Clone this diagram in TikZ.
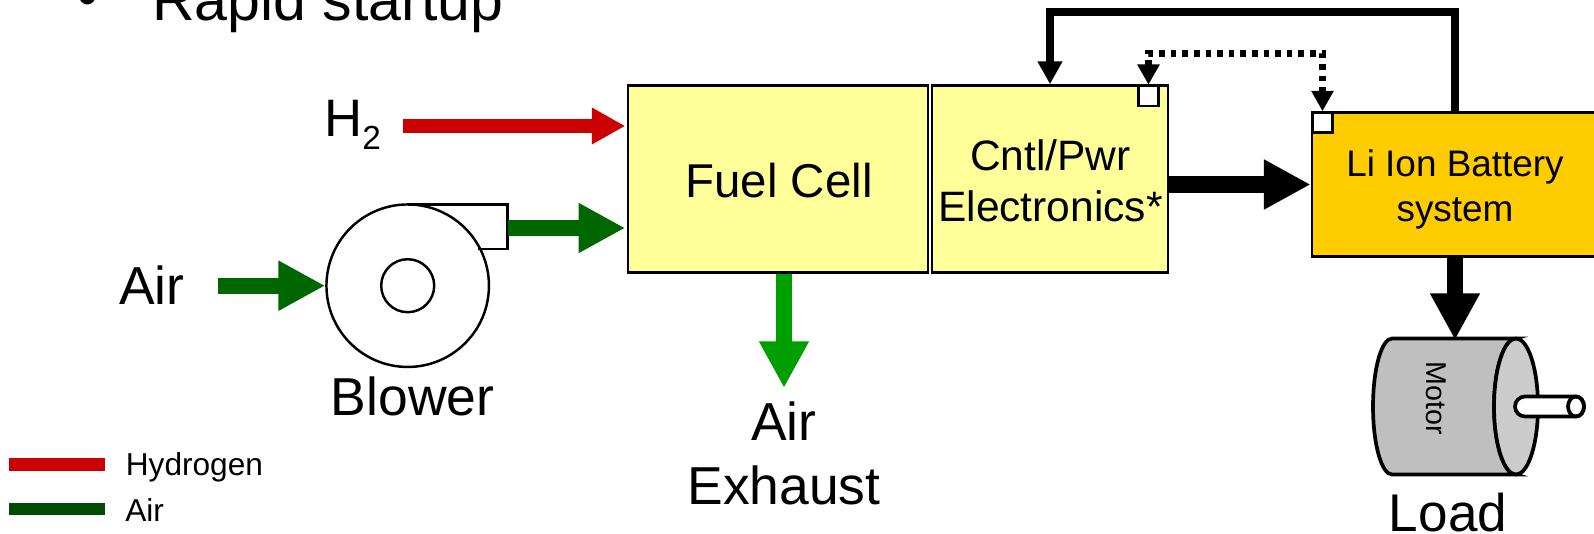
\documentclass[tikz,border=0pt]{standalone}
\usepackage{fontspec}
\setmainfont{Liberation Sans}
\usetikzlibrary{arrows.meta}
\definecolor{cellyellow}{HTML}{FFFF99}
\definecolor{batteryorange}{HTML}{FFCC00}
\definecolor{hydrogenred}{HTML}{CC0000}
\definecolor{airgreen}{HTML}{006600}
\definecolor{legendgreen}{HTML}{004D00}
\definecolor{exhaustgreen}{HTML}{009F00}
\definecolor{motorgrey}{HTML}{BFBFBF}
\definecolor{motorface}{HTML}{CCCCCC}
\begin{document}
\begin{tikzpicture}[scale=0.2]
	\tikzstyle{every node}+=[inner sep=0pt]
	\tikzstyle{box}=[draw=black,line width=1.5pt]
	\tikzstyle{port}=[draw=black,fill=white,line width=1.5pt,minimum size=0.4cm]
	\tikzstyle{bigtext}=[font=\fontsize{30.4}{36.4}\selectfont]
	\tikzstyle{flow}=[line width=9.2pt,-{Triangle[length=26.6pt,width=26.6pt]}]
	\tikzstyle{signal}=[line width=4.3pt,-{Triangle[length=13pt,width=13.4pt]}]
	\tikzstyle{sense}=[line width=3.8pt,dash pattern=on 3.2pt off 3.4pt,{Triangle[length=11.5pt,width=12pt]}-{Triangle[length=11.5pt,width=12pt]}]
	\useasboundingbox (0,0) rectangle (159.4,-53.3);

	\node [anchor=base west,font=\fontsize{33.6}{40}\selectfont] (startup) at (15.2,-2) {Rapid startup};
	\node [anchor=base,font=\fontsize{33.6}{40}\selectfont] (bullet) at (8.8,-1.6) {•};

	\node [box,fill=cellyellow,minimum width=6cm,minimum height=3.74cm] (fuel) at (77.8,-17.9) {};
	\node [box,fill=cellyellow,minimum width=4.72cm,minimum height=3.74cm] (cntl) at (105,-17.9) {};
	\node [box,fill=batteryorange,minimum width=5.72cm,minimum height=2.87cm] (battery) at (145.5,-18.45) {};
	\node [port] (cntlport) at (114.85,-9.6) {};
	\node [port] (batport) at (132.25,-12.25) {};
	\node [font=\fontsize{27}{32}\selectfont] (fuellabel) at (77.9,-18.05) {Fuel Cell};
	\node [align=center,font=\fontsize{24.2}{29}\selectfont] (cntllabel) at (105.05,-18.1) {Cntl/Pwr\\Electronics*};
	\node [align=center,font=\fontsize{21}{25.5}\selectfont] (batterylabel) at (145.5,-18.95) {Li Ion Battery\\system};

	\node [anchor=base west,font=\fontsize{30}{36}\selectfont] (h2) at (32.4,-13.6) {H\raisebox{-7.4pt}{\fontsize{19}{23}\selectfont 2}};
	\node [anchor=base west,bigtext] (air) at (11.9,-30.45) {Air};
	\node [anchor=base,bigtext] (blowerlabel) at (41.25,-41.5) {Blower};
	\node [anchor=base,bigtext] (exhaustlabel) at (78.4,-44) {Air};
	\node [anchor=base,bigtext] (exhaustlabeltwo) at (78.4,-50.4) {Exhaust};
	\node [anchor=base,font=\fontsize{30.2}{36}\selectfont] (load) at (144.8,-53.1) {Load};

	\draw [black,line width=1.4pt] (40.77,-20.44) -- (50.73,-20.44) -- (50.73,-24.9) -- (47.8,-24.9);
	\node [draw=black,line width=1.4pt,circle,minimum size=3.25cm] (blower) at (40.77,-28.57) {};
	\node [draw=black,line width=1.4pt,circle,minimum size=1.06cm] (hub) at (40.77,-28.57) {};

	\draw [black,fill=motorgrey,line width=2.1pt] (139.2,-33.85) arc (90:270:1.9 and 6.8) -- (151.6,-47.45) arc (270:90:2.2 and 6.8) -- cycle;
	\draw [black,fill=motorface,line width=2.1pt] (151.6,-40.65) ellipse (2.2 and 6.8);
	\draw [black,fill=white,line width=2.1pt] (152.5,-39.65) -- (157.6,-39.65) arc (90:-90:0.8 and 1) -- (152.5,-41.65) arc (270:90:1) -- cycle;
	\draw [black,line width=2.1pt] (157.6,-40.65) ellipse (0.8 and 1);
	\node [rotate=-90,font=\fontsize{16.3}{20}\selectfont] (motor) at (143.6,-39.8) {Motor};
	\coordinate (motortop) at (145.5,-34);

	\coordinate (h2start) at (40.3,-12.6);
	\coordinate (airstart) at (21.8,-28.57);
	\coordinate (blowout) at (50.85,-22.8);
	\coordinate (exhaustend) at (78.4,-38.8);
	\coordinate (fbcorner) at (105,-1.22);
	\coordinate (dotcorner) at (114.85,-5.33);
	\coordinate (redstart) at (0.85,-46.45);
	\coordinate (redend) at (10.5,-46.45);
	\coordinate (greenstart) at (0.9,-50.9);
	\coordinate (greenend) at (10.5,-50.9);

	\draw [flow,hydrogenred,line width=7.8pt,-{Triangle[length=19pt,width=19.6pt]},shorten >=0.8pt] (h2start) -- (h2start -| fuel.west);
	\draw [flow,airgreen,shorten >=0.8pt] (blowout) -- (blowout -| fuel.west);
	\draw [flow,airgreen] (airstart) -- (blower.west);
	\draw [flow,exhaustgreen] (fuel.south -| exhaustend) -- (exhaustend);
	\draw [flow,black] (cntl.east |- battery.west) -- (battery.west);
	\draw [flow,black] (battery.south) -- (motortop);
	\draw [signal,black] (battery.north) |- (fbcorner) -- (cntl.north);
	\draw [sense,black] (cntlport.north) -- (dotcorner) -| (batport.north);

	\draw [hydrogenred,line width=7pt] (redstart) -- (redend);
	\draw [legendgreen,line width=7pt] (greenstart) -- (greenend);
	\node [anchor=base west,font=\fontsize{18}{22}\selectfont] (hydrogenlabel) at (12.55,-47.57) {Hydrogen};
	\node [anchor=base west,font=\fontsize{18}{22}\selectfont] (airlabel) at (12.5,-52.1) {Air};
\end{tikzpicture}
\end{document}
